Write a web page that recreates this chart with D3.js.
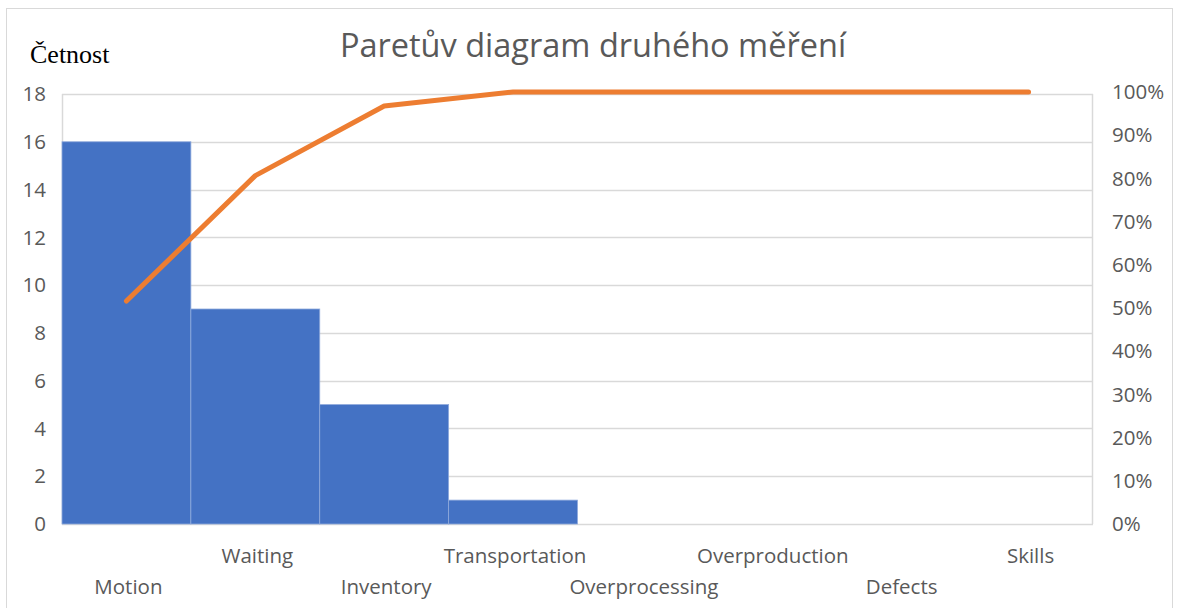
<!DOCTYPE html>
<html>
<head>
<meta charset="utf-8">
<style>
  body { margin: 0; background: #fff; }
  text { font-family: "Open Sans", Lato, sans-serif; }
</style>
</head>
<body>
<script src="https://d3js.org/d3.v7.min.js"></script>
<script>
// data
var categories = ["Motion", "Waiting", "Inventory", "Transportation", "Overprocessing", "Overproduction", "Defects", "Skills"];
var counts = [16, 9, 5, 1, 0, 0, 0, 0];
var leftTicks = [0, 2, 4, 6, 8, 10, 12, 14, 16, 18];
var rightTicks = [0, 0.1, 0.2, 0.3, 0.4, 0.5, 0.6, 0.7, 0.8, 0.9, 1];

var total = d3.sum(counts);
var cumulative = [];
var run = 0;
counts.forEach(function(c) { run += c; cumulative.push(run / total); });

var W = 1181, H = 608;
var margin = { top: 94, right: 88, bottom: 84, left: 62 },
    width = W - margin.left - margin.right,
    height = H - margin.top - margin.bottom;

var svg = d3.select("body").append("svg")
    .attr("width", W)
    .attr("height", H);

// chart border
svg.append("rect")
    .attr("x", 6.5).attr("y", 8.5)
    .attr("width", 1166).attr("height", 610)
    .attr("fill", "none")
    .attr("stroke", "#d9d9d9");

var g = svg.append("g")
    .attr("transform", "translate(" + margin.left + "," + margin.top + ")");

var x = d3.scaleBand().domain(categories).range([0, width]).padding(0);
var y = d3.scaleLinear().domain([0, 18]).range([height, 0]);
var y2 = d3.scaleLinear().domain([0, 1]).range([height, -2]);

// gridlines
g.append("g")
  .selectAll("line")
  .data(leftTicks)
  .join("line")
    .attr("x1", 0).attr("x2", width)
    .attr("y1", function(d) { return Math.round(y(d)) + 0.5; })
    .attr("y2", function(d) { return Math.round(y(d)) + 0.5; })
    .attr("stroke", "#d9d9d9")
    .attr("stroke-width", 1.5);

// plot side lines
g.append("line").attr("x1", 0.5).attr("x2", 0.5).attr("y1", 0).attr("y2", height)
  .attr("stroke", "#d9d9d9").attr("stroke-width", 1.5);
g.append("line").attr("x1", width - 0.5).attr("x2", width - 0.5).attr("y1", 0).attr("y2", height)
  .attr("stroke", "#d9d9d9").attr("stroke-width", 1.5);

// bars
g.append("g")
  .selectAll("rect")
  .data(counts)
  .join("rect")
    .attr("x", function(d, i) { return x(categories[i]); })
    .attr("y", function(d) { return y(d); })
    .attr("width", x.bandwidth())
    .attr("height", function(d) { return height - y(d); })
    .attr("fill", "#4472c4")
    .attr("stroke", "#8faadc")
    .attr("stroke-width", d => d > 0 ? 0.8 : 0);

// pareto line
var line = d3.line()
    .x(function(d, i) { return x(categories[i]) + x.bandwidth() / 2; })
    .y(function(d) { return y2(d); });

g.append("path")
    .datum(cumulative)
    .attr("d", line)
    .attr("fill", "none")
    .attr("stroke", "#ed7d31")
    .attr("stroke-width", 5)
    .attr("stroke-linecap", "round")
    .attr("stroke-linejoin", "round");

// left axis labels
g.append("g")
  .selectAll("text")
  .data(leftTicks)
  .join("text")
    .attr("x", -16)
    .attr("y", function(d) { return y(d); })
    .attr("dy", "0.35em")
    .attr("text-anchor", "end")
    .attr("fill", "#595959")
    .style("font-size", "20.5px")
    .text(function(d) { return d; });

// right axis labels
var pct = d3.format(".0%");
g.append("g")
  .selectAll("text")
  .data(rightTicks)
  .join("text")
    .attr("x", width + 19)
    .attr("y", function(d) { return y2(d); })
    .attr("dy", "0.35em")
    .attr("text-anchor", "start")
    .attr("fill", "#595959")
    .style("font-size", "20.5px")
    .text(function(d) { return pct(d); });

// category labels, staggered
g.append("g")
  .selectAll("text")
  .data(categories)
  .join("text")
    .attr("x", function(d) { return x(d) + x.bandwidth() / 2 + 2; })
    .attr("y", function(d, i) { return i % 2 === 0 ? height + 70 : height + 39; })
    .attr("text-anchor", "middle")
    .attr("fill", "#595959")
    .style("font-size", "20.5px")
    .text(function(d) { return d; });

// title
svg.append("text")
    .attr("x", 593)
    .attr("y", 57)
    .attr("text-anchor", "middle")
    .attr("fill", "#595959")
    .style("font-size", "32.5px")
    .text("Paretův diagram druhého měření");

// y axis title
svg.append("text")
    .attr("x", 30)
    .attr("y", 63)
    .attr("fill", "#000")
    .style("font-family", "'Liberation Serif', serif")
    .style("font-size", "26px")
    .text("Četnost");
</script>
</body>
</html>
